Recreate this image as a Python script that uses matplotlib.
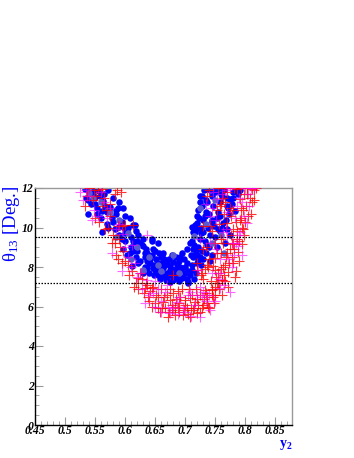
import matplotlib
matplotlib.use("Agg")
import matplotlib.pyplot as plt
from matplotlib.ticker import MultipleLocator

plt.rcParams['mathtext.fontset'] = 'custom'
plt.rcParams['mathtext.rm'] = 'Liberation Serif'
plt.rcParams['mathtext.it'] = 'Liberation Serif:italic'
plt.rcParams['mathtext.bf'] = 'Liberation Serif:bold'

# ---- data ----
blue_x = [0.533, 0.545, 0.572, 0.558, 0.538, 0.55, 0.567, 0.588, 0.597, 0.538, 0.553, 0.562,
          0.578, 0.608, 0.572, 0.562, 0.583, 0.6, 0.613, 0.595, 0.613, 0.622, 0.645, 0.628,
          0.597, 0.603, 0.613, 0.633, 0.65, 0.662, 0.642, 0.655, 0.622, 0.612, 0.637, 0.65,
          0.663, 0.63,
          0.617, 0.645, 0.655, 0.663, 0.708, 0.703, 0.72, 0.713, 0.692, 0.68, 0.67, 0.662,
          0.675, 0.692, 0.703, 0.712, 0.7, 0.687, 0.67, 0.655, 0.68, 0.695, 0.705, 0.675,
          0.72, 0.725, 0.725, 0.717, 0.712, 0.72, 0.637, 0.63, 0.62, 0.642, 0.647, 0.633, 0.705,
          0.733, 0.742, 0.728, 0.725, 0.722, 0.72, 0.717, 0.713, 0.712, 0.713, 0.72, 0.73,
          0.742, 0.737, 0.747, 0.733, 0.745, 0.758, 0.763, 0.755, 0.77, 0.742, 0.73, 0.775,
          0.767, 0.753, 0.737, 0.78, 0.792, 0.775, 0.762, 0.77, 0.783, 0.75,
          0.54, 0.548, 0.556, 0.565, 0.58, 0.59, 0.543, 0.553, 0.56, 0.57, 0.585, 0.595,
          0.605, 0.59, 0.6, 0.61, 0.618, 0.625, 0.635, 0.608, 0.618, 0.625, 0.633, 0.64,
          0.647, 0.652, 0.657, 0.64, 0.648, 0.658, 0.66, 0.665,
          0.668, 0.675, 0.683, 0.69, 0.697, 0.703, 0.685, 0.695, 0.675, 0.67, 0.708, 0.712,
          0.715, 0.718, 0.69, 0.66, 0.678, 0.7,
          0.722, 0.727, 0.723, 0.728, 0.732, 0.735, 0.738, 0.74, 0.745, 0.748, 0.752, 0.755,
          0.758, 0.762, 0.765, 0.77, 0.773, 0.778, 0.785, 0.735, 0.745, 0.733, 0.727, 0.718,
          0.724,
          0.535, 0.55, 0.563, 0.575, 0.585, 0.57, 0.58, 0.59, 0.6, 0.61, 0.6, 0.615,
          0.62, 0.63, 0.637, 0.645, 0.652, 0.66, 0.667, 0.673, 0.68, 0.686, 0.693, 0.698,
          0.705, 0.71, 0.715, 0.718, 0.722, 0.728, 0.73, 0.735, 0.74, 0.745, 0.75, 0.753,
          0.758, 0.76, 0.768, 0.772, 0.78, 0.788, 0.74, 0.757, 0.727, 0.685, 0.663, 0.648]
blue_y = [11.93, 11.7, 11.9, 11.6, 11.4, 11.2, 11.1, 11.0, 11.0, 10.66, 10.66, 10.86,
          10.5, 10.5, 10.0, 9.75, 9.9, 9.9, 10.15, 9.4, 9.34, 9.6, 9.34, 9.1,
          8.9, 8.6, 8.8, 8.7, 8.8, 8.6, 8.4, 8.2, 8.2, 8.05, 7.97, 7.87,
          7.97, 7.7,
          10.15, 9.4, 9.24, 8.73, 9.24, 8.9, 8.9, 8.5, 8.5, 8.27, 8.2, 8.0,
          7.87, 8.0, 8.2, 7.87, 7.7, 7.6, 7.5, 7.6, 7.36, 7.46, 7.26, 7.26,
          8.2, 8.5, 9.4, 9.75, 10.05, 10.25, 8.73, 9.04, 9.3, 8.2, 7.97, 8.0, 7.2,
          11.93, 11.88, 11.6, 11.27, 10.9, 10.6, 10.15, 9.75, 9.34, 8.9, 8.63, 8.38,
          8.3, 11.27, 11.1, 10.6, 10.4, 10.6, 10.25, 9.9, 9.9, 9.6, 9.75, 9.6,
          9.24, 9.0, 9.1, 11.78, 11.88, 11.42, 11.6, 11.1, 10.86, 11.78,
          11.8, 11.9, 11.85, 11.7, 11.5, 11.3, 11.2, 11.0, 10.5, 10.2, 10.7, 10.3,
          10.0, 9.6, 9.3, 9.0, 9.8, 9.2, 8.9, 8.7, 8.5, 8.3, 8.5, 8.2,
          8.9, 8.4, 8.7, 7.7, 7.6, 7.4, 7.8, 8.4,
          7.35, 7.6, 7.9, 8.3, 7.5, 7.4, 8.5, 8.7, 8.05, 7.7, 7.6, 8.1,
          7.4, 8.7, 7.3, 8.2, 8.6, 8.0,
          9.0, 9.7, 10.5, 11.1, 11.9, 10.8, 10.0, 9.0, 11.6, 10.1, 11.9, 10.8,
          11.3, 10.0, 11.9, 11.5, 10.7, 11.2, 11.9, 8.7, 8.6, 9.3, 8.1, 9.9,
          11.6,
          11.5, 11.55, 11.35, 11.05, 10.9, 10.8, 10.3, 10.05, 10.6, 9.5, 9.7, 9.25,
          8.8, 9.4, 8.3, 8.6, 8.0, 8.5, 8.1, 8.4, 7.75, 8.15, 7.85, 8.4,
          7.8, 8.6, 9.1, 7.7, 8.35, 8.8, 10.4, 11.4, 10.7, 10.3, 9.5, 10.5,
          9.8, 11.7, 10.4, 11.0, 11.5, 11.7, 12.0, 12.0, 10.0, 7.45, 7.55, 8.1]

slate_x = [0.547, 0.56, 0.575, 0.59, 0.605, 0.62, 0.64, 0.61, 0.66, 0.69, 0.655,
           0.735, 0.745, 0.76, 0.75, 0.725, 0.54, 0.585, 0.63, 0.68, 0.715, 0.765]
slate_y = [11.5, 11.3, 10.8, 10.4, 9.7, 9.0, 8.5, 8.4, 7.8, 7.7, 8.1,
           10.2, 9.2, 9.6, 11.4, 11.0, 11.75, 9.5, 7.85, 8.6, 9.55, 8.7]

red_x = [0.555, 0.583, 0.533, 0.547, 0.575, 0.588, 0.6, 0.613, 0.583, 0.592, 0.588, 0.6,
         0.625, 0.622, 0.645, 0.637, 0.562, 0.57, 0.55, 0.595, 0.587,
         0.633, 0.647, 0.638, 0.655, 0.663, 0.675, 0.68, 0.692, 0.7, 0.708, 0.717, 0.725,
         0.737, 0.745, 0.753, 0.762, 0.667, 0.678, 0.688, 0.703, 0.713, 0.728, 0.683, 0.697,
         0.708, 0.72, 0.672, 0.658, 0.737, 0.747, 0.68, 0.72, 0.737, 0.763, 0.755,
         0.738, 0.75, 0.767, 0.778, 0.788, 0.772, 0.762, 0.75, 0.772, 0.733, 0.762, 0.745,
         0.78, 0.795, 0.75, 0.728, 0.783,
         0.77, 0.787, 0.803, 0.812, 0.792, 0.805, 0.792, 0.797, 0.78, 0.787, 0.763, 0.775,
         0.753, 0.73, 0.72, 0.747, 0.758, 0.742, 0.73, 0.77, 0.753, 0.78, 0.797, 0.812,
         0.737, 0.763,
         0.537, 0.548, 0.565, 0.575, 0.557, 0.567, 0.58, 0.59, 0.597, 0.605, 0.612, 0.618,
         0.628, 0.632, 0.642, 0.64,
         0.65, 0.66, 0.67, 0.678, 0.685, 0.69, 0.695, 0.7, 0.705, 0.712, 0.715, 0.72,
         0.725, 0.73, 0.735, 0.74, 0.743, 0.748, 0.688, 0.673, 0.662, 0.652,
         0.752, 0.757, 0.765, 0.768, 0.773, 0.777, 0.782, 0.785, 0.79, 0.793, 0.798, 0.803,
         0.808, 0.815, 0.8, 0.795, 0.775, 0.767, 0.76, 0.757, 0.765, 0.782, 0.74, 0.755,
         0.745, 0.735, 0.74, 0.73, 0.76, 0.785, 0.79,
         0.54, 0.552, 0.562, 0.593, 0.572, 0.578, 0.585, 0.595, 0.607, 0.615, 0.622, 0.635,
         0.645, 0.655, 0.665, 0.675, 0.683, 0.69, 0.698, 0.706, 0.71, 0.718, 0.722, 0.732,
         0.738, 0.745, 0.75, 0.755, 0.76, 0.767, 0.77, 0.778, 0.78, 0.787, 0.793, 0.798,
         0.802, 0.81, 0.815, 0.818, 0.77, 0.793, 0.777, 0.765, 0.76, 0.75, 0.733, 0.727]
red_y = [11.88, 11.68, 11.1, 11.37, 10.6, 10.1, 10.15, 10.15, 9.24, 9.0, 8.38, 8.3,
         7.7, 7.46, 6.95, 7.1, 11.1, 10.9, 10.5, 10.1, 11.9,
         6.95, 7.0, 6.5, 6.5, 6.24, 6.35, 6.7, 6.5, 6.35, 6.45, 6.24, 6.6,
         6.5, 6.85, 7.2, 7.36, 5.94, 5.84, 5.94, 5.94, 5.84, 5.94, 5.58, 5.58,
         5.48, 5.69, 5.48, 5.74, 6.2, 6.5, 7.6, 7.87, 8.1, 8.0, 7.7,
         8.0, 7.87, 8.1, 8.5, 8.78, 7.77, 7.36, 7.0, 7.0, 6.85, 6.6, 6.6,
         9.14, 9.14, 8.48, 7.7, 7.5,
         11.78, 11.93, 11.68, 11.93, 11.42, 10.6, 10.4, 9.9, 9.9, 9.4, 9.24, 8.9,
         8.73, 8.9, 8.2, 8.07, 11.1, 10.1, 10.1, 10.25, 10.9, 10.9, 10.9, 11.27,
         11.6, 11.5,
         11.6, 11.9, 11.5, 11.2, 10.3, 9.9, 9.6, 9.4, 8.8, 8.1, 7.8, 7.2,
         7.4, 6.7, 6.8, 6.3,
         6.2, 6.9, 6.6, 6.1, 6.4, 5.7, 6.9, 6.1, 5.6, 6.6, 5.9, 6.4,
         5.7, 6.1, 6.7, 5.9, 7.3, 6.2, 6.8, 5.7, 5.9, 6.6,
         7.5, 6.9, 7.6, 8.5, 8.2, 9.6, 8.9, 10.3, 9.3, 11.0, 11.7, 12.0,
         11.5, 11.9, 10.3, 10.0, 11.0, 11.3, 9.4, 10.2, 12.0, 12.0, 11.9, 12.0,
         9.8, 9.0, 8.4, 7.4, 8.7, 7.8, 8.3,
         12.0, 11.6, 11.95, 11.8, 10.0, 9.2, 8.6, 8.2, 7.6, 7.0, 6.9, 7.2,
         6.0, 5.9, 6.5, 6.9, 6.0, 6.2, 5.8, 6.9, 5.9, 6.9, 6.1, 6.4,
         6.0, 6.9, 6.6, 7.2, 7.9, 7.3, 8.7, 9.2, 8.2, 9.8, 10.5, 9.6,
         11.1, 10.7, 11.4, 12.0, 12.0, 12.0, 10.6, 10.7, 11.2, 9.2, 7.9, 7.6]

mag_x = [0.525, 0.545, 0.578, 0.595, 0.617, 0.637, 0.555, 0.612, 0.597, 0.54, 0.565,
         0.633, 0.65, 0.697, 0.742, 0.687, 0.667, 0.73, 0.647, 0.708, 0.758, 0.637,
         0.675, 0.725,
         0.795, 0.758, 0.775, 0.728, 0.788,
         0.747, 0.775, 0.8, 0.787, 0.803, 0.792, 0.78, 0.763, 0.742, 0.725, 0.758,
         0.722, 0.77, 0.742, 0.753,
         0.53, 0.56, 0.57, 0.585, 0.6, 0.61, 0.62, 0.628, 0.64, 0.66, 0.68, 0.7,
         0.715, 0.735, 0.75, 0.765, 0.778, 0.782, 0.79, 0.798, 0.807, 0.81, 0.768, 0.752,
         0.735, 0.762, 0.79, 0.745, 0.725, 0.705, 0.67, 0.65,
         0.535, 0.548, 0.575, 0.59, 0.605, 0.625, 0.655, 0.672, 0.69, 0.71, 0.72, 0.74,
         0.757, 0.772, 0.785, 0.795, 0.805, 0.815, 0.752, 0.77, 0.783, 0.745, 0.77, 0.688,
         0.66]
mag_y = [11.78, 10.4, 8.73, 7.8, 8.2, 9.6, 10.6, 9.1, 9.65, 11.6, 11.3,
         6.2, 6.0, 6.0, 5.84, 6.24, 6.75, 6.75, 6.7, 6.75, 6.95, 7.36,
         5.69, 5.48,
         8.63, 7.7, 6.75, 6.5, 9.04,
         11.78, 12.0, 12.0, 11.1, 10.25, 9.75, 9.24, 9.75, 9.24, 9.4, 8.38,
         7.87, 10.76, 10.6, 11.42,
         11.4, 11.8, 10.5, 9.9, 9.0, 8.0, 7.5, 6.9, 6.6, 6.3, 5.9, 5.7,
         6.1, 6.3, 6.3, 7.1, 8.0, 8.6, 9.6, 10.6, 11.1, 12.0, 9.9, 10.4,
         11.2, 11.7, 11.5, 7.7, 7.0, 6.6, 7.1, 7.3,
         11.9, 10.9, 11.0, 10.2, 8.5, 7.7, 6.9, 6.0, 6.5, 5.5, 6.6, 6.6,
         7.4, 8.4, 9.2, 11.3, 11.7, 12.0, 8.9, 9.5, 10.5, 11.0, 11.9, 5.6,
         5.7]

bound_levels = [9.52, 7.2]
x_ticks = [0.45, 0.5, 0.55, 0.6, 0.65, 0.7, 0.75, 0.8, 0.85]
x_tick_labels = ['0.45', '0.5', '0.55', '0.6', '0.65', '0.7', '0.75', '0.8', '0.85']
y_ticks = [0, 2, 4, 6, 8, 10, 12]

# ---- figure ----
fig = plt.figure(figsize=(3.54, 4.58), dpi=100)
ax = fig.add_axes([35 / 354, 1 - 425 / 458, (292 - 35) / 354, (425 - 188) / 458])

ax.scatter(blue_x, blue_y, s=22, c='#0000ff', linewidths=0, zorder=2)
ax.scatter(slate_x, slate_y, s=22, c='#5a5ad0', linewidths=0, zorder=2)
ax.scatter(red_x, red_y, s=42, marker='+', c='#ff0000', linewidths=0.8, alpha=0.8, zorder=3)
ax.scatter(mag_x, mag_y, s=42, marker='+', c='#ff00ff', linewidths=0.8, alpha=0.6, zorder=3)

for lv in bound_levels:
    ax.axhline(lv, color='black', linestyle=(0, (1.2, 1.2)), linewidth=0.9, zorder=4)

ax.set_xlim(0.45, 0.878)
ax.set_ylim(0, 12)

ax.set_xticks(x_ticks)
ax.set_xticklabels(x_tick_labels)
ax.set_yticks(y_ticks)
ax.xaxis.set_minor_locator(MultipleLocator(0.01))
ax.yaxis.set_minor_locator(MultipleLocator(0.5))
ax.tick_params(which='both', direction='in', colors='#999999', labelcolor='black',
               top=False, right=False)
ax.tick_params(which='major', length=6, width=0.8)
ax.tick_params(which='minor', length=3, width=0.6)
for lab in ax.get_xticklabels() + ax.get_yticklabels():
    lab.set_fontfamily('Liberation Serif')
    lab.set_fontweight('bold')
    lab.set_fontstyle('italic')
    lab.set_fontsize(8.5)
ax.tick_params(axis='x', pad=0)
ax.tick_params(axis='y', pad=1)

for side in ['left', 'bottom']:
    ax.spines[side].set_color('black')
    ax.spines[side].set_linewidth(1.0)
for side in ['top', 'right']:
    ax.spines[side].set_color('#999999')
    ax.spines[side].set_linewidth(1.0)

fig.text(0.032, 1 - 186 / 458, 'θ$_{\\mathrm{13}}$ [Deg.]', rotation=90, va='top', ha='center',
         color='#0000ff', fontsize=13.5, fontfamily='Liberation Serif')
fig.text(292 / 354, 1 - 445 / 458, r'$\mathbf{y}_{\mathbf{2}}$', ha='right', va='center',
         color='#0000ff', fontsize=10, fontfamily='Liberation Serif', fontweight='bold')

fig.savefig('out.png', dpi=100)
